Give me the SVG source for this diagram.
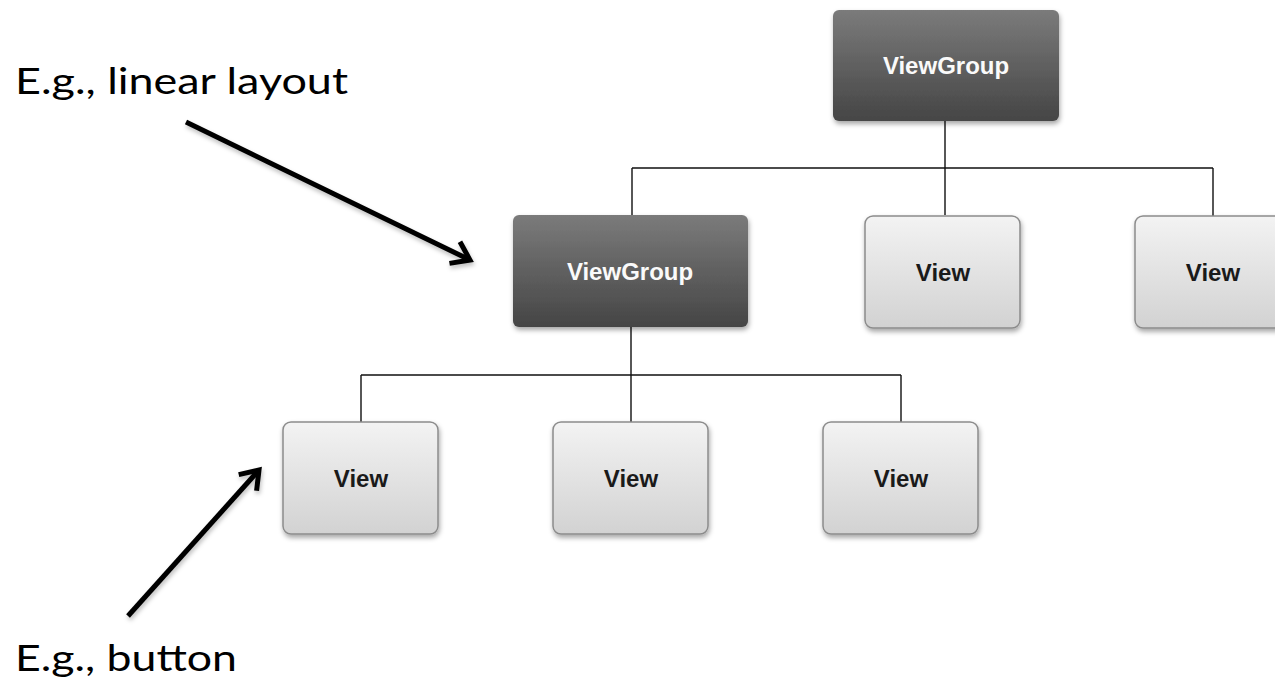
<svg xmlns="http://www.w3.org/2000/svg" width="1275" height="684" viewBox="0 0 1275 684">
<style>
.note{font-family:Lato,"Open Sans","Liberation Sans",sans-serif;font-size:37px;fill:#000}
.vgtxt{font-family:"Liberation Sans",Arial,sans-serif;font-weight:bold;font-size:24px;fill:#fafafa;text-anchor:middle}
.vtxt{font-family:"Liberation Sans",Arial,sans-serif;font-weight:bold;font-size:24px;fill:#1a1a1a;text-anchor:middle}
.vg{fill:url(#gDark);filter:url(#sh)}
.v{fill:url(#gLight);stroke:#8c8c8c;stroke-width:1.5;filter:url(#sh)}
.conn{stroke:#111;stroke-width:1.4;fill:none}
.arr{stroke:#000;stroke-width:5;fill:none;filter:url(#ash)}
</style>
<defs>
<linearGradient id="gDark" x1="0" y1="0" x2="0" y2="1">
<stop offset="0" stop-color="#7b7b7b"/>
<stop offset="1" stop-color="#454545"/>
</linearGradient>
<linearGradient id="gLight" x1="0" y1="0" x2="0" y2="1">
<stop offset="0" stop-color="#f3f3f3"/>
<stop offset="1" stop-color="#d2d2d2"/>
</linearGradient>
<filter id="sh" x="-10%" y="-10%" width="125%" height="130%">
<feDropShadow dx="1" dy="3" stdDeviation="2.5" flood-color="#000" flood-opacity="0.35"/>
</filter>
<filter id="ash" x="-10%" y="-10%" width="130%" height="130%">
<feDropShadow dx="1" dy="3" stdDeviation="2" flood-color="#000" flood-opacity="0.25"/>
</filter>
<marker id="chev" markerUnits="userSpaceOnUse" viewBox="-24 -16 30 32" refX="0" refY="0" markerWidth="30" markerHeight="32" orient="auto" overflow="visible">
<path d="M-17,-12 L0,0 L-17,12" fill="none" stroke="#000" stroke-width="5" stroke-linejoin="miter"/>
</marker>
</defs>

<g id="connectors">
<path class="conn" d="M945,120 V215 M632,168 H1213 M632,168 V215 M1213,168 V217"/>
<path class="conn" d="M631,327 V422 M361,375 H901 M361,375 V422 M901,375 V422"/>
</g>

<g id="node-viewgroup-top">
<rect class="vg" x="833" y="10" width="226" height="111" rx="6"/>
<text class="vgtxt" x="946" y="74">ViewGroup</text>
</g>
<g id="node-viewgroup-mid">
<rect class="vg" x="513" y="215" width="235" height="112" rx="6"/>
<text class="vgtxt" x="630" y="280">ViewGroup</text>
</g>
<g id="node-view-1">
<rect class="v" x="865" y="216" width="155" height="112" rx="8"/>
<text class="vtxt" x="943" y="281">View</text>
</g>
<g id="node-view-2">
<rect class="v" x="1135" y="216" width="155" height="112" rx="8"/>
<text class="vtxt" x="1213" y="281">View</text>
</g>
<g id="node-view-3">
<rect class="v" x="283" y="422" width="155" height="112" rx="8"/>
<text class="vtxt" x="361" y="487">View</text>
</g>
<g id="node-view-4">
<rect class="v" x="553" y="422" width="155" height="112" rx="8"/>
<text class="vtxt" x="631" y="487">View</text>
</g>
<g id="node-view-5">
<rect class="v" x="823" y="422" width="155" height="112" rx="8"/>
<text class="vtxt" x="901" y="487">View</text>
</g>

<g id="annotations">
<text class="note" x="15" y="94" textLength="333" lengthAdjust="spacingAndGlyphs">E.g., linear layout</text>
<line class="arr" x1="186" y1="122" x2="470" y2="260" marker-end="url(#chev)"/>
<text class="note" x="15" y="671" textLength="222" lengthAdjust="spacingAndGlyphs">E.g., button</text>
<line class="arr" x1="128" y1="616" x2="259" y2="470" marker-end="url(#chev)"/>
</g>
</svg>
